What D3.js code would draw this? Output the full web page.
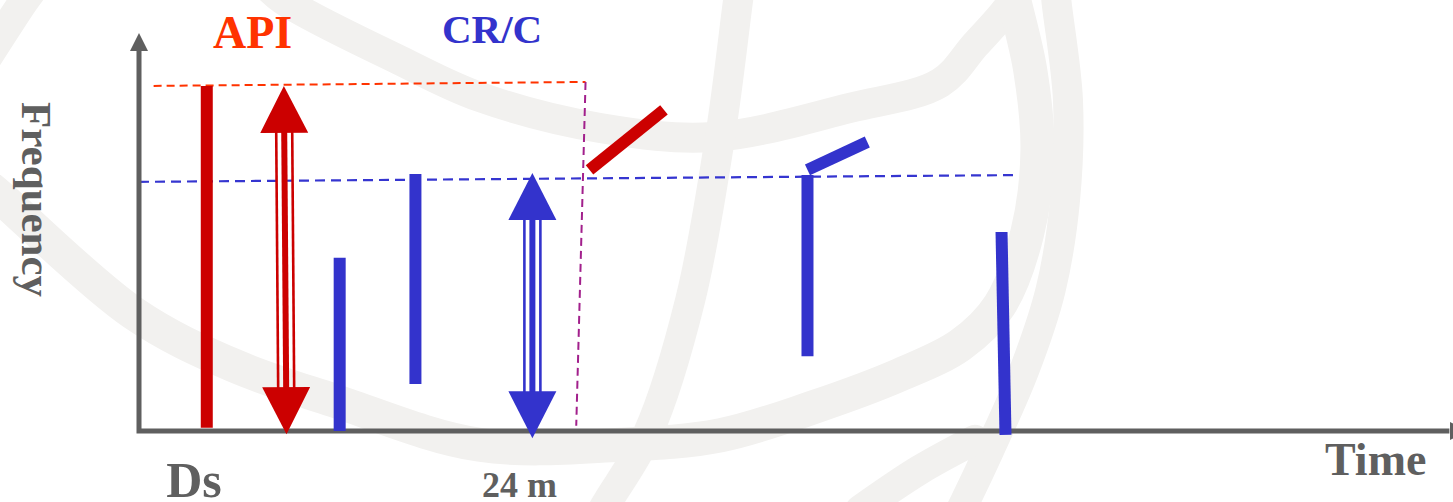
<!DOCTYPE html>
<html>
<head>
<meta charset="utf-8">
<script src="https://cdn.jsdelivr.net/npm/d3@7"></script>
<style>
  html, body { margin: 0; padding: 0; background: #fff; }
  text { font-family: "Liberation Serif", "Times New Roman", serif; font-weight: bold; }
</style>
</head>
<body>
<div class="box"></div>
<script>
// ---- data (time units 0..100, frequency units 0..100) ----
// vertical / slanted segments : [t0, f0, t1, f1]
const apiSegments = [[5.1, 0.8, 5.1, 86.7], [33.9, 65.6, 39.5, 80.7]]
const crcSegments = [[15.1, 0.0, 15.1, 43.5], [20.8, 11.8, 20.8, 64.6],
                     [50.3, 18.8, 50.3, 64.3], [50.3, 65.6, 54.8, 72.6],
                     [64.9, 50.0, 65.2, -1.0]]
// double arrows : [tTop, fTop, tBottom, fBottom]
const apiArrows = [[10.9, 86.7, 11.1, -0.8]]
const crcArrows = [[29.6, 64.8, 29.6, -1.8]]
// dashed guides : list of [t, f]
const apiLevel = [[1.1, 86.7], [33.6, 87.7]]
const crcLevel = [[0.0, 62.6], [66.0, 64.3]]
const cutoff = [[33.6, 87.7], [32.9, 1.3]]
// tick labels
const tickTimes = [4.1, 28.6]
const tickLabels = ['Ds', '24 m']
const tickSizes = [50, 36]

// faint globe watermark, as fractions of the picture
const globe = [
  [[0.03, -0.05], [0.017, 0], [-0.01, 0.12]],
  [[0.180, -0.04], [0.195, 0], [0.275, 0.120], [0.330, 0.193], [0.413, 0.255], [0.491, 0.273],
   [0.585, 0.215], [0.647, 0.165], [0.671, 0.090], [0.697, 0], [0.700, -0.04]],
  [[-0.007, 0.375], [0, 0.392], [0.092, 0.624], [0.160, 0.727], [0.229, 0.797], [0.330, 0.886],
   [0.427, 0.886], [0.496, 0.867], [0.560, 0.811], [0.619, 0.747], [0.661, 0.687], [0.688, 0.608],
   [0.707, 0.464], [0.714, 0.299], [0.709, 0.139], [0.698, 0], [0.695, -0.04]],
  [[0.510, -0.04], [0.508, 0], [0.496, 0.265], [0.475, 0.598], [0.446, 0.863], [0.418, 1.0], [0.410, 1.04]],
  [[0.726, -0.04], [0.727, 0], [0.735, 0.199], [0.733, 0.398], [0.723, 0.578], [0.705, 0.737],
   [0.681, 0.896], [0.664, 1.0], [0.657, 1.04]],
  [[0.592, 1.016], [0.633, 0.936], [0.671, 0.876]]
]

const width = 1453
const height = 502
const red = '#cc0000'
const blue = '#3333cc'
const axisGrey = '#5f5f5f'

const svg = d3.select('.box')
  .append('svg')
  .attr('width', width)
  .attr('height', height)
  .style('display', 'block')
  .style('background-color', '#ffffff')

// watermark
const bx = d3.scaleLinear().domain([0, 1]).range([0, width])
const by = d3.scaleLinear().domain([0, 1]).range([0, height])
const bgLine = d3.line().x(d => bx(d[0])).y(d => by(d[1])).curve(d3.curveCatmullRom)
svg.append('g')
  .selectAll('path')
  .data(globe)
  .enter()
  .append('path')
  .attr('d', bgLine)
  .attr('fill', 'none')
  .attr('stroke', '#f2f1ef')
  .attr('stroke-width', (d, i) => i === 2 ? 34 : 30)
  .attr('stroke-linecap', 'round')

// scales
const x = d3.scaleLinear().domain([0, 100]).range([139, 1468])
const y = d3.scaleLinear().domain([0, 100]).range([431, 33])

const line = d3.line().x(d => x(d[0])).y(d => y(d[1]))

// dashed guides
svg.append('path').attr('d', line(apiLevel))
  .attr('fill', 'none').attr('stroke', '#ff3300').attr('stroke-width', 2).attr('stroke-dasharray', '8,5')
svg.append('path').attr('d', line(crcLevel))
  .attr('fill', 'none').attr('stroke', '#3535d0').attr('stroke-width', 2.2).attr('stroke-dasharray', '10,6')
svg.append('path').attr('d', line(cutoff))
  .attr('fill', 'none').attr('stroke', '#a2208c').attr('stroke-width', 2).attr('stroke-dasharray', '8,5')

// axes (lines with arrow heads)
const axes = svg.append('g')
axes.append('path')
  .attr('d', line([[0, 96], [0, 0], [98.6, 0]]))
  .attr('fill', 'none').attr('stroke', axisGrey).attr('stroke-width', 5)
axes.append('path')
  .attr('d', `M${x(0)},${y(100)} L${x(0) + 9},${y(100) + 18} L${x(0) - 9},${y(100) + 18} Z`)
  .attr('fill', axisGrey)
axes.append('path')
  .attr('d', `M${x(100)},${y(0)} L${x(100) - 18},${y(0) - 9} L${x(100) - 18},${y(0) + 9} Z`)
  .attr('fill', axisGrey)

// tick labels through a d3 axis
const axeX = d3.axisBottom(x)
  .tickValues(tickTimes)
  .tickFormat((d, i) => tickLabels[i])
  .tickSize(0)
const groupX = svg.append('g').attr('transform', `translate(0, ${y(0)})`).call(axeX)
groupX.select('.domain').remove()
groupX.selectAll('text')
  .attr('y', 66)
  .attr('dy', 0)
  .attr('fill', axisGrey)
  .style('font-family', '"Liberation Serif", serif')
  .style('font-weight', 'bold')
  .style('font-size', (d, i) => tickSizes[i] + 'px')

// segments
function drawSegments(data, color) {
  svg.append('g')
    .selectAll('line')
    .data(data)
    .enter()
    .append('line')
    .attr('x1', d => x(d[0]))
    .attr('y1', d => y(d[1]))
    .attr('x2', d => x(d[2]))
    .attr('y2', d => y(d[3]))
    .attr('stroke', color)
    .attr('stroke-width', 12)
}
drawSegments(apiSegments, red)
drawSegments(crcSegments, blue)

// double arrows : thick center shaft with two thin rails, triangular heads
function drawArrows(data, color) {
  const headLen = 47, headHalf = 24
  data.forEach(d => {
    const ax = x(d[0]), ay = y(d[1]), bx2 = x(d[2]), by2 = y(d[3])
    const len = Math.hypot(bx2 - ax, by2 - ay)
    const ux = (bx2 - ax) / len, uy = (by2 - ay) / len
    const px = -uy, py = ux
    const g = svg.append('g')
    const s0 = [ax + ux * (headLen - 2), ay + uy * (headLen - 2)]
    const s1 = [bx2 - ux * (headLen - 2), by2 - uy * (headLen - 2)]
    ;[[0, 6], [-8, 2.6], [8, 2.6]].forEach(([o, w]) => {
      g.append('line')
        .attr('x1', s0[0] + px * o).attr('y1', s0[1] + py * o)
        .attr('x2', s1[0] + px * o).attr('y2', s1[1] + py * o)
        .attr('stroke', color).attr('stroke-width', w)
    })
    const head = (tx, ty, dx, dy) => {
      const bxh = tx + dx * headLen, byh = ty + dy * headLen
      return `M${tx},${ty} L${bxh + px * headHalf},${byh + py * headHalf} L${bxh - px * headHalf},${byh - py * headHalf} Z`
    }
    g.append('path').attr('d', head(ax, ay, ux, uy)).attr('fill', color)
    g.append('path').attr('d', head(bx2, by2, -ux, -uy)).attr('fill', color)
  })
}
drawArrows(apiArrows, red)
drawArrows(crcArrows, blue)

// titles
svg.append('text').attr('x', 213).attr('y', 48)
  .attr('fill', '#ff3300').style('font-size', '46px').text('API')
svg.append('text').attr('x', 442).attr('y', 43)
  .attr('fill', blue).style('font-size', '41px').text('CR/C')
svg.append('text').attr('x', 1325).attr('y', 475)
  .attr('fill', axisGrey).style('font-size', '46px').text('Time')
svg.append('text')
  .attr('transform', 'translate(22, 102) rotate(90)')
  .attr('fill', axisGrey).style('font-size', '43px').text('Frequency')
</script>
</body>
</html>
